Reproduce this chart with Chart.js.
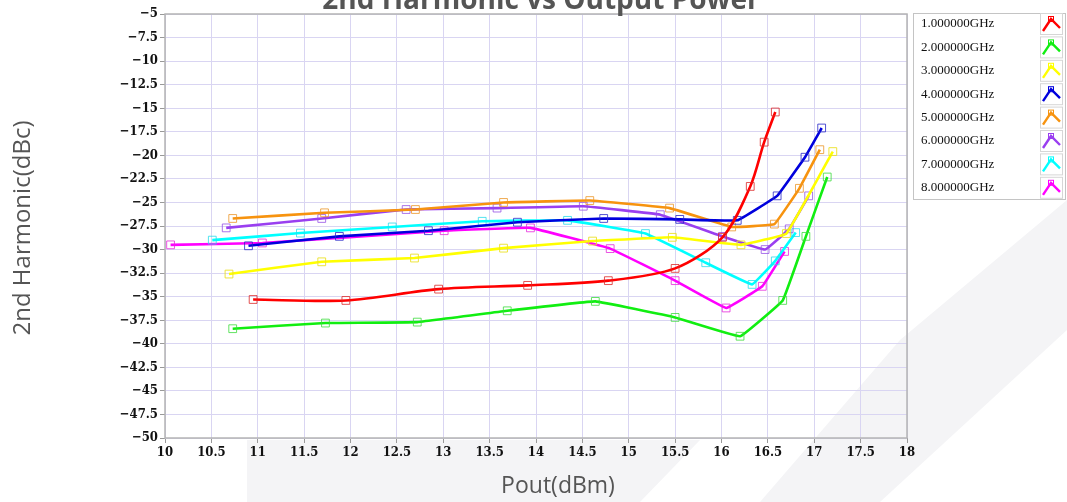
<!DOCTYPE html>
<html>
<head>
<meta charset="utf-8">
<script src="https://cdn.jsdelivr.net/npm/chart.js@4/dist/chart.umd.min.js"></script>
<style>
  html, body { margin: 0; padding: 0; background: #fff; }
  #wrap { width: 1067px; height: 502px; position: relative; }
</style>
</head>
<body>
<div id="wrap"><canvas id="harmonic" width="1067" height="502"></canvas></div>
<script>
// series: output power (dBm) and 2nd harmonic (dBc) per frequency
var freqLabels = ['1.000000GHz', '2.000000GHz', '3.000000GHz', '4.000000GHz',
                  '5.000000GHz', '6.000000GHz', '7.000000GHz', '8.000000GHz'];

var pout1 = [10.95, 11.95, 12.95, 13.91, 14.78, 15.50, 16.01, 16.31, 16.46, 16.58];
var harm1 = [-35.3, -35.4, -34.2, -33.8, -33.3, -32.0, -28.7, -23.3, -18.6, -15.4];

var pout2 = [10.73, 11.73, 12.72, 13.69, 14.64, 15.50, 16.20, 16.66, 16.91, 17.14];
var harm2 = [-38.4, -37.8, -37.7, -36.5, -35.5, -37.2, -39.2, -35.4, -28.6, -22.3];

var pout3 = [10.69, 11.69, 12.69, 13.65, 14.61, 15.47, 16.21, 16.70, 17.20];
var harm3 = [-32.6, -31.3, -30.9, -29.85, -29.1, -28.7, -29.5, -28.3, -19.6];

var pout4 = [10.90, 11.88, 12.84, 13.80, 14.73, 15.55, 16.17, 16.60, 16.90, 17.08];
var harm4 = [-29.6, -28.6, -28.0, -27.1, -26.7, -26.8, -26.9, -24.3, -20.2, -17.1];

var pout5 = [10.73, 11.72, 12.70, 13.65, 14.58, 15.44, 16.11, 16.57, 16.84, 17.06];
var harm5 = [-26.7, -26.1, -25.75, -25.0, -24.8, -25.6, -27.6, -27.3, -23.5, -19.4];

var pout6 = [10.66, 11.69, 12.60, 13.58, 14.51, 15.34, 16.01, 16.47, 16.73, 16.94];
var harm6 = [-27.7, -26.7, -25.75, -25.6, -25.4, -26.3, -28.6, -30.0, -27.8, -24.3];

var pout7 = [10.51, 11.46, 12.45, 13.42, 14.34, 15.18, 15.83, 16.33, 16.58, 16.80];
var harm7 = [-29.0, -28.25, -27.6, -27.0, -26.9, -28.3, -31.4, -33.7, -31.2, -28.2];

var pout8 = [10.06, 11.05, 13.01, 13.94, 14.80, 15.50, 16.05, 16.44, 16.68];
var harm8 = [-29.5, -29.3, -28.0, -27.7, -29.9, -33.3, -36.2, -33.9, -30.2];

var xTickLabels = ['10', '10.5', '11', '11.5', '12', '12.5', '13', '13.5', '14',
                   '14.5', '15', '15.5', '16', '16.5', '17', '17.5', '18'];
var yTickLabels = ['\u221250', '\u221247.5', '\u221245', '\u221242.5', '\u221240',
                   '\u221237.5', '\u221235', '\u221232.5', '\u221230', '\u221227.5',
                   '\u221225', '\u221222.5', '\u221220', '\u221217.5', '\u221215',
                   '\u221212.5', '\u221210', '\u22127.5', '\u22125'];

var powers = [pout1, pout2, pout3, pout4, pout5, pout6, pout7, pout8];
var harmonics = [harm1, harm2, harm3, harm4, harm5, harm6, harm7, harm8];

var lineColors = ['#ff0000', '#11ee11', '#ffff00', '#0000dd',
                  '#f7930f', '#9a3ff0', '#00ffff', '#ff00ff'];
var markColors = ['rgba(220,40,40,0.8)', 'rgba(60,220,60,0.8)', 'rgba(235,225,40,0.9)', 'rgba(40,40,200,0.8)',
                  'rgba(235,150,40,0.8)', 'rgba(150,80,230,0.8)', 'rgba(40,220,235,0.8)', 'rgba(230,40,220,0.8)'];

var datasets = freqLabels.map(function(label, k) {
    return {
        label: label,
        data: powers[k].map(function(x, i) { return { x: x, y: harmonics[k][i] }; }),
        borderColor: lineColors[k],
        borderWidth: 2.6,
        tension: k === 0 ? 0.3 : 0.06,
        pointStyle: 'rect',
        pointRadius: 5.5,
        pointBorderWidth: 1,
        pointBorderColor: markColors[k],
        pointBackgroundColor: 'rgba(0,0,0,0)'
    };
});

// title, axis names, frame, legend and faint backdrop shapes
var decorations = {
    id: 'decorations',
    beforeDraw: function(chart) {
        var ctx = chart.ctx;
        ctx.save();
        ctx.fillStyle = '#f4f4f6';
        ctx.beginPath();
        ctx.moveTo(247, 502); ctx.lineTo(247, 440); ctx.lineTo(700, 440); ctx.lineTo(640, 502);
        ctx.closePath(); ctx.fill();
        ctx.beginPath();
        ctx.moveTo(760, 502); ctx.lineTo(900, 340); ctx.lineTo(1067, 200); ctx.lineTo(1067, 330); ctx.lineTo(880, 502);
        ctx.closePath(); ctx.fill();
        ctx.restore();
    },
    beforeDatasetsDraw: function(chart) {
        var a = chart.chartArea, ctx = chart.ctx;
        ctx.save();
        ctx.strokeStyle = '#b4b4b4';
        ctx.lineWidth = 1.5;
        ctx.strokeRect(a.left, a.top, a.right - a.left, a.bottom - a.top);
        ctx.restore();
    },
    afterDraw: function(chart) {
        var ctx = chart.ctx;
        ctx.save();
        ctx.fillStyle = '#555';
        ctx.textAlign = 'center';
        ctx.font = 'bold 28px "Open Sans"';
        ctx.textBaseline = 'alphabetic';
        ctx.fillText('2nd Harmonic vs Output Power', 541, 9);

        ctx.font = '23px "Open Sans"';
        ctx.textBaseline = 'middle';
        ctx.fillText('Pout(dBm)', 558, 486);
        ctx.font = '24px "Open Sans"';
        ctx.translate(23, 228);
        ctx.rotate(-Math.PI / 2);
        ctx.fillText('2nd Harmonic(dBc)', 0, 0);
        ctx.restore();

        // legend box
        ctx.save();
        ctx.fillStyle = '#fff';
        ctx.fillRect(913, 13, 152, 186);
        ctx.strokeStyle = '#c4c4c4';
        ctx.lineWidth = 1;
        ctx.strokeRect(913.5, 13.5, 152, 186);
        ctx.font = '13px "Liberation Serif"';
        ctx.textAlign = 'left';
        ctx.textBaseline = 'middle';
        chart.data.datasets.forEach(function(ds, i) {
            var cy = 24 + i * 23.4;
            ctx.fillStyle = '#111';
            ctx.fillText(ds.label, 921, cy);
            ctx.strokeStyle = '#d6d6d6';
            ctx.lineWidth = 1;
            ctx.strokeRect(1040.5, cy - 10.5, 22, 21);
            ctx.strokeStyle = ds.borderColor;
            ctx.lineWidth = 2.4;
            ctx.beginPath();
            ctx.moveTo(1043, cy + 7);
            ctx.lineTo(1051, cy - 5);
            ctx.lineTo(1060, cy + 4);
            ctx.stroke();
            ctx.lineWidth = 1;
            ctx.strokeRect(1048.5, cy - 7.5, 5, 5);
        });
        ctx.restore();
    }
};

var tickFont = { family: '"DejaVu Serif Condensed", "DejaVu Serif"', size: 13, weight: 'bold' };

new Chart(document.getElementById('harmonic').getContext('2d'), {
    type: 'line',
    data: { datasets: datasets },
    options: {
        responsive: false,
        animation: false,
        devicePixelRatio: 1,
        layout: { padding: { top: 14, right: 160, left: 0, bottom: 0 } },
        plugins: {
            legend: { display: false },
            tooltip: { enabled: false }
        },
        scales: {
            x: {
                type: 'linear',
                min: 10,
                max: 18,
                ticks: {
                    stepSize: 0.5,
                    color: '#111',
                    font: tickFont,
                    padding: 2,
                    maxRotation: 0,
                    autoSkip: false,
                    callback: function(v, i) { return xTickLabels[i]; }
                },
                grid: { color: '#d9d5f2', lineWidth: 1, tickLength: 5, tickColor: '#999' },
                border: { display: false },
                afterFit: function(scale) { scale.height = 64; }
            },
            y: {
                min: -50,
                max: -5,
                ticks: {
                    stepSize: 2.5,
                    color: '#111',
                    font: tickFont,
                    padding: 2,
                    autoSkip: false,
                    callback: function(v, i) { return yTickLabels[i]; }
                },
                grid: { color: '#d9d5f2', lineWidth: 1, tickLength: 5, tickColor: '#999' },
                border: { display: false },
                afterFit: function(scale) { scale.width = 165; }
            }
        }
    },
    plugins: [decorations]
});
</script>
</body>
</html>
